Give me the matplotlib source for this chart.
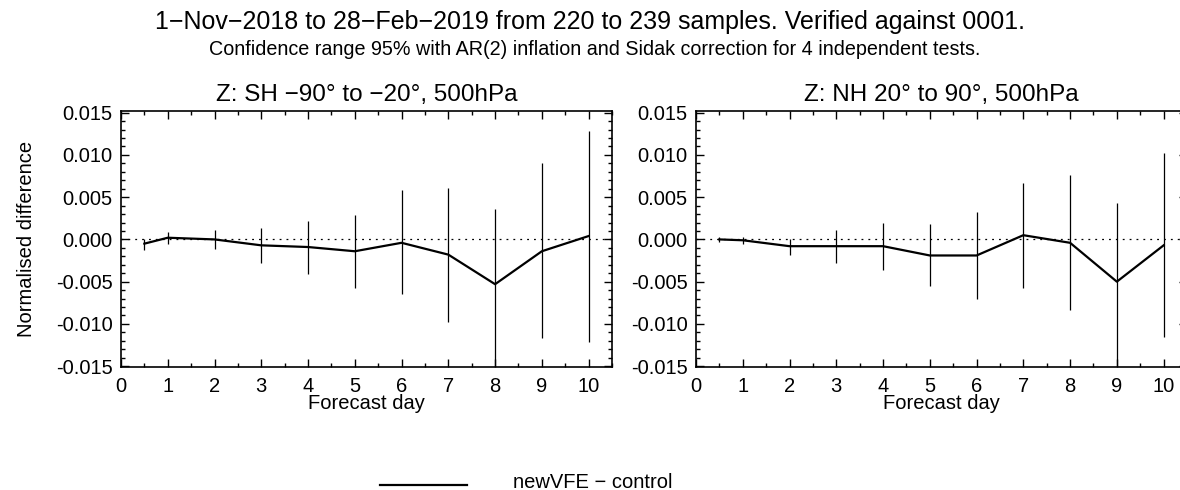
import numpy as np
import matplotlib
matplotlib.use('Agg')
from matplotlib import pyplot as plt
from matplotlib.lines import Line2D
from matplotlib.ticker import MultipleLocator, FormatStrFormatter

plt.rcParams['font.family'] = ['Liberation Sans', 'DejaVu Sans']

days = [0.5, 1, 2, 3, 4, 5, 6, 7, 8, 9, 10]

# SH -90 to -20, 500hPa
sh_mean = [-0.0005, 0.0002, 0.0, -0.0007, -0.0009, -0.0014, -0.0004, -0.0018, -0.0053, -0.0014, 0.0004]
sh_hi = [0.0000, 0.0009, 0.0011, 0.0013, 0.0022, 0.0029, 0.0058, 0.0061, 0.0036, 0.0090, 0.0128]
sh_lo = [-0.0012, -0.0005, -0.0011, -0.0028, -0.0041, -0.0057, -0.0065, -0.0098, -0.0160, -0.0117, -0.0121]

# NH 20 to 90, 500hPa
nh_mean = [0.0, -0.0001, -0.0008, -0.0008, -0.0008, -0.0019, -0.0019, 0.0005, -0.0004, -0.0050, -0.0007]
nh_hi = [0.0003, 0.0003, 0.0, 0.0011, 0.0019, 0.0018, 0.0032, 0.0067, 0.0076, 0.0043, 0.0102]
nh_lo = [-0.0003, -0.0005, -0.0018, -0.0028, -0.0036, -0.0055, -0.0071, -0.0057, -0.0083, -0.0160, -0.0116]

panels = [
    ('Z: SH \u221290\u00b0 to \u221220\u00b0, 500hPa', sh_mean, sh_hi, sh_lo),
    ('Z: NH 20\u00b0 to 90\u00b0, 500hPa', nh_mean, nh_hi, nh_lo),
]

fig = plt.figure(figsize=(11.8, 4.9), dpi=100)
lefts = [121 / 1180, 696 / 1180]
w = 491 / 1180
bottom = (490 - 367) / 490
h = (367 - 111) / 490

for i, (title, mean, hi, lo) in enumerate(panels):
    ax = fig.add_axes([lefts[i], bottom, w, h])
    ax.vlines(days, lo, hi, color='black', linewidth=0.9)
    ax.plot(days, mean, color='black', linewidth=1.6)
    ax.axhline(0, color='black', linestyle=(0, (1.5, 4)), linewidth=0.9)
    ax.set_xlim(0, 10.5)
    ax.set_ylim(-0.0151, 0.0152)
    ax.xaxis.set_major_locator(MultipleLocator(1))
    ax.xaxis.set_minor_locator(MultipleLocator(0.5))
    ax.yaxis.set_major_locator(MultipleLocator(0.005))
    ax.yaxis.set_minor_locator(MultipleLocator(0.001))
    ax.yaxis.set_major_formatter(FormatStrFormatter('%.3f'))
    ax.tick_params(which='both', direction='in', top=True, right=True, width=1)
    ax.tick_params(which='major', length=6, labelsize=14.5)
    ax.tick_params(axis='x', which='major', pad=7)
    ax.tick_params(axis='y', which='major', pad=6)
    ax.tick_params(which='minor', length=3)
    for s in ax.spines.values():
        s.set_linewidth(1.2)
    ax.set_title(title, fontsize=17.5, pad=7.5)
    ax.set_xlabel('Forecast day', fontsize=14.5, labelpad=-1)
    if i == 0:
        ax.set_ylabel('Normalised difference', fontsize=14.5, labelpad=14)

fig.text(0.5, 1 - 29.5 / 490, '1\u2212Nov\u22122018 to 28\u2212Feb\u22122019 from 220 to 239 samples. Verified against 0001.',
         ha='center', va='baseline', fontsize=18)
fig.text(0.504, 1 - 55 / 490, 'Confidence range 95% with AR(2) inflation and Sidak correction for 4 independent tests.',
         ha='center', va='baseline', fontsize=14.2)

fig.add_artist(Line2D([380 / 1180, 467 / 1180], [1 - 485 / 490, 1 - 485 / 490],
                      color='black', linewidth=1.6, transform=fig.transFigure))
fig.text(513 / 1180, 1 - 488 / 490, 'newVFE \u2212 control', ha='left', va='baseline', fontsize=14.5)

plt.savefig('out.png', dpi=100)
